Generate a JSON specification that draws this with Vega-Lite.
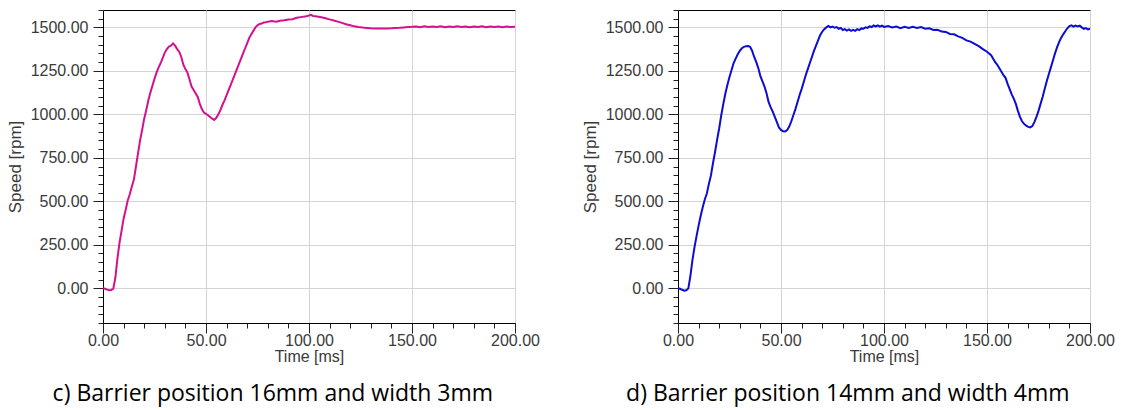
{
  "$schema": "https://vega.github.io/schema/vega-lite/v6.json",
  "padding": {"left": 5, "top": 1, "right": 5, "bottom": 2},
  "bounds": "flush",
  "spacing": 163,
  "background": "white",
  "config": {
    "view": {"stroke": "#000000", "strokeWidth": 1},
    "axis": {
      "domainColor": "#000000",
      "tickColor": "#222222",
      "gridColor": "#d4d4d4",
      "gridWidth": 1,
      "labelFont": "Liberation Sans",
      "labelFontSize": 16,
      "labelColor": "#3a3a3a",
      "titleFont": "Liberation Sans",
      "titleFontSize": 16,
      "titleFontWeight": "normal",
      "titleColor": "#3a3a3a",
      "labelOverlap": false,
      "labelFlush": false
    },
    "title": {
      "font": "Open Sans",
      "fontSize": 23,
      "fontWeight": "normal",
      "color": "#000000",
      "orient": "bottom",
      "anchor": "middle",
      "frame": "bounds",
      "offset": 19
    }
  },
  "datasets": {
    "c": [
      {"t":0,"v":0},{"t":1,"v":-3},{"t":2,"v":-8},{"t":3,"v":-12},{"t":4,"v":-10},{"t":5,"v":-3},
      {"t":6,"v":60},{"t":7,"v":170},{"t":8,"v":260},{"t":9,"v":330},{"t":10,"v":400},
      {"t":11,"v":450},{"t":12,"v":505},{"t":13,"v":540},{"t":14,"v":585},{"t":15,"v":625},
      {"t":16,"v":700},{"t":17,"v":775},{"t":18,"v":850},{"t":19,"v":910},{"t":20,"v":975},
      {"t":21,"v":1025},{"t":22,"v":1080},{"t":23,"v":1125},{"t":24,"v":1165},{"t":25,"v":1205},
      {"t":26,"v":1240},{"t":27,"v":1270},{"t":28,"v":1295},{"t":29,"v":1325},{"t":30,"v":1355},
      {"t":31,"v":1375},{"t":32,"v":1390},{"t":33,"v":1395},{"t":34,"v":1408},{"t":35,"v":1395},
      {"t":36,"v":1375},{"t":37,"v":1360},{"t":38,"v":1330},{"t":39,"v":1285},{"t":40,"v":1260},
      {"t":41,"v":1240},{"t":42,"v":1200},{"t":43,"v":1160},{"t":44,"v":1140},{"t":45,"v":1120},
      {"t":46,"v":1100},{"t":47,"v":1060},{"t":48,"v":1030},{"t":49,"v":1010},{"t":50,"v":1003},
      {"t":51,"v":995},{"t":52,"v":985},{"t":53,"v":975},{"t":54,"v":968},{"t":55,"v":980},
      {"t":56,"v":1000},{"t":57,"v":1025},{"t":58,"v":1055},{"t":59,"v":1080},{"t":60,"v":1110},
      {"t":61,"v":1140},{"t":62,"v":1170},{"t":63,"v":1200},{"t":64,"v":1230},{"t":65,"v":1260},
      {"t":66,"v":1290},{"t":67,"v":1320},{"t":68,"v":1350},{"t":69,"v":1380},{"t":70,"v":1410},
      {"t":71,"v":1440},{"t":72,"v":1460},{"t":73,"v":1480},{"t":74,"v":1500},{"t":75,"v":1512},
      {"t":76,"v":1520},{"t":77,"v":1522},{"t":78,"v":1528},{"t":79,"v":1530},{"t":80,"v":1533},
      {"t":82,"v":1536},{"t":84,"v":1533},{"t":86,"v":1538},{"t":88,"v":1541},{"t":90,"v":1545},
      {"t":92,"v":1547},{"t":94,"v":1555},{"t":96,"v":1559},{"t":98,"v":1562},{"t":100,"v":1568},
      {"t":101,"v":1572},{"t":102,"v":1566},{"t":104,"v":1563},{"t":106,"v":1558},{"t":108,"v":1553},
      {"t":110,"v":1546},{"t":112,"v":1540},{"t":114,"v":1533},{"t":116,"v":1526},{"t":118,"v":1518},
      {"t":120,"v":1512},{"t":122,"v":1506},{"t":124,"v":1502},{"t":126,"v":1499},{"t":128,"v":1497},
      {"t":130,"v":1495},{"t":132,"v":1494},{"t":134,"v":1494},{"t":136,"v":1493},{"t":138,"v":1494},
      {"t":140,"v":1495},{"t":142,"v":1497},{"t":144,"v":1498},{"t":146,"v":1500},{"t":148,"v":1502},
      {"t":150,"v":1503},{"t":152,"v":1505},{"t":154,"v":1501},{"t":156,"v":1506},{"t":158,"v":1502},
      {"t":160,"v":1505},{"t":162,"v":1502},{"t":164,"v":1506},{"t":166,"v":1501},{"t":168,"v":1505},
      {"t":170,"v":1502},{"t":172,"v":1506},{"t":174,"v":1502},{"t":176,"v":1505},{"t":178,"v":1501},
      {"t":180,"v":1505},{"t":182,"v":1502},{"t":184,"v":1506},{"t":186,"v":1501},{"t":188,"v":1505},
      {"t":190,"v":1502},{"t":192,"v":1505},{"t":194,"v":1501},{"t":196,"v":1505},{"t":198,"v":1502},
      {"t":200,"v":1503}
    ],
    "d": [
      {"t":0,"v":0},{"t":1,"v":-3},{"t":2,"v":-9},{"t":3,"v":-14},{"t":4,"v":-12},{"t":5,"v":-2},
      {"t":6,"v":70},{"t":7,"v":160},{"t":8,"v":235},{"t":9,"v":300},{"t":10,"v":360},
      {"t":11,"v":415},{"t":12,"v":465},{"t":13,"v":510},{"t":14,"v":545},{"t":15,"v":600},
      {"t":16,"v":650},{"t":17,"v":720},{"t":18,"v":785},{"t":19,"v":855},{"t":20,"v":920},
      {"t":21,"v":995},{"t":22,"v":1060},{"t":23,"v":1120},{"t":24,"v":1170},{"t":25,"v":1215},
      {"t":26,"v":1255},{"t":27,"v":1295},{"t":28,"v":1320},{"t":29,"v":1345},{"t":30,"v":1365},
      {"t":31,"v":1380},{"t":32,"v":1388},{"t":33,"v":1392},{"t":34,"v":1393},{"t":35,"v":1388},
      {"t":36,"v":1365},{"t":37,"v":1330},{"t":38,"v":1300},{"t":39,"v":1265},{"t":40,"v":1220},
      {"t":41,"v":1190},{"t":42,"v":1160},{"t":43,"v":1120},{"t":44,"v":1070},{"t":45,"v":1040},
      {"t":46,"v":1015},{"t":47,"v":985},{"t":48,"v":955},{"t":49,"v":925},{"t":50,"v":910},
      {"t":51,"v":903},{"t":52,"v":902},{"t":53,"v":910},{"t":54,"v":930},{"t":55,"v":960},
      {"t":56,"v":995},{"t":57,"v":1030},{"t":58,"v":1070},{"t":59,"v":1110},{"t":60,"v":1145},
      {"t":61,"v":1185},{"t":62,"v":1225},{"t":63,"v":1260},{"t":64,"v":1295},{"t":65,"v":1330},
      {"t":66,"v":1365},{"t":67,"v":1395},{"t":68,"v":1425},{"t":69,"v":1455},{"t":70,"v":1475},
      {"t":71,"v":1490},{"t":72,"v":1500},{"t":73,"v":1508},{"t":74,"v":1500},{"t":75,"v":1505},
      {"t":76,"v":1498},{"t":77,"v":1502},{"t":78,"v":1492},{"t":79,"v":1497},{"t":80,"v":1485},
      {"t":81,"v":1490},{"t":82,"v":1482},{"t":83,"v":1488},{"t":84,"v":1480},{"t":85,"v":1486},
      {"t":86,"v":1480},{"t":87,"v":1490},{"t":88,"v":1484},{"t":89,"v":1494},{"t":90,"v":1492},
      {"t":91,"v":1500},{"t":92,"v":1497},{"t":93,"v":1506},{"t":94,"v":1502},{"t":95,"v":1511},
      {"t":96,"v":1506},{"t":97,"v":1512},{"t":98,"v":1504},{"t":99,"v":1510},{"t":100,"v":1503},
      {"t":102,"v":1508},{"t":104,"v":1500},{"t":106,"v":1505},{"t":108,"v":1496},{"t":110,"v":1504},
      {"t":112,"v":1497},{"t":114,"v":1503},{"t":116,"v":1497},{"t":118,"v":1502},{"t":120,"v":1492},
      {"t":122,"v":1495},{"t":124,"v":1485},{"t":126,"v":1486},{"t":128,"v":1476},{"t":130,"v":1474},
      {"t":132,"v":1462},{"t":134,"v":1460},{"t":136,"v":1448},{"t":138,"v":1440},{"t":140,"v":1425},
      {"t":142,"v":1418},{"t":144,"v":1405},{"t":146,"v":1392},{"t":148,"v":1375},{"t":150,"v":1360},
      {"t":151,"v":1350},{"t":152,"v":1340},{"t":153,"v":1320},{"t":154,"v":1300},{"t":155,"v":1285},
      {"t":156,"v":1265},{"t":157,"v":1245},{"t":158,"v":1225},{"t":159,"v":1210},{"t":160,"v":1175},
      {"t":161,"v":1145},{"t":162,"v":1115},{"t":163,"v":1090},{"t":164,"v":1060},{"t":165,"v":1020},
      {"t":166,"v":985},{"t":167,"v":960},{"t":168,"v":945},{"t":169,"v":935},{"t":170,"v":928},
      {"t":171,"v":925},{"t":172,"v":932},{"t":173,"v":955},{"t":174,"v":985},{"t":175,"v":1020},
      {"t":176,"v":1060},{"t":177,"v":1100},{"t":178,"v":1145},{"t":179,"v":1190},{"t":180,"v":1230},
      {"t":181,"v":1270},{"t":182,"v":1310},{"t":183,"v":1350},{"t":184,"v":1385},{"t":185,"v":1415},
      {"t":186,"v":1440},{"t":187,"v":1460},{"t":188,"v":1478},{"t":189,"v":1495},{"t":190,"v":1508},
      {"t":191,"v":1512},{"t":192,"v":1505},{"t":193,"v":1510},{"t":194,"v":1506},{"t":195,"v":1510},
      {"t":196,"v":1500},{"t":197,"v":1492},{"t":198,"v":1496},{"t":199,"v":1488},{"t":200,"v":1493}
    ]
  },
  "hconcat": [
    {
      "width": 412,
      "height": 313,
      "data": {"name": "c"},
      "title": {"text": "c) Barrier position 16mm and width 3mm"},
      "mark": {"type": "line", "color": "#d4118c", "strokeWidth": 2, "clip": true},
      "encoding": {
        "x": {
          "field": "t", "type": "quantitative",
          "scale": {"domain": [0, 200], "nice": false, "zero": false},
          "axis": {
            "title": "Time [ms]",
            "values": [0,10,20,30,40,50,60,70,80,90,100,110,120,130,140,150,160,170,180,190,200],
            "labelExpr": "datum.value % 50 === 0 ? format(datum.value, '.2f') : ''",
            "tickSize": {"condition": {"test": "datum.value % 50 === 0", "value": 10}, "value": 5},
            "gridOpacity": {"condition": {"test": "datum.value % 50 === 0", "value": 1}, "value": 0},
            "labelPadding": -1,
            "titlePadding": 0
          }
        },
        "y": {
          "field": "v", "type": "quantitative",
          "scale": {"domain": [-200, 1600], "nice": false, "zero": false},
          "axis": {
            "title": "Speed [rpm]",
            "titleFontSize": 17,
            "values": [-200,-150,-100,-50,0,50,100,150,200,250,300,350,400,450,500,550,600,650,700,750,800,850,900,950,1000,1050,1100,1150,1200,1250,1300,1350,1400,1450,1500,1550,1600],
            "labelExpr": "datum.value % 250 === 0 && datum.value >= 0 ? format(datum.value, '.2f') : ''",
            "tickSize": {"condition": {"test": "datum.value % 250 === 0", "value": 10}, "value": 5},
            "gridOpacity": {"condition": {"test": "datum.value % 250 === 0", "value": 1}, "value": 0},
            "labelPadding": 5,
            "titlePadding": 6
          }
        }
      }
    },
    {
      "width": 412,
      "height": 313,
      "data": {"name": "d"},
      "title": {"text": "d) Barrier position 14mm and width 4mm"},
      "mark": {"type": "line", "color": "#0c0cd2", "strokeWidth": 2, "clip": true},
      "encoding": {
        "x": {
          "field": "t", "type": "quantitative",
          "scale": {"domain": [0, 200], "nice": false, "zero": false},
          "axis": {
            "title": "Time [ms]",
            "values": [0,10,20,30,40,50,60,70,80,90,100,110,120,130,140,150,160,170,180,190,200],
            "labelExpr": "datum.value % 50 === 0 ? format(datum.value, '.2f') : ''",
            "tickSize": {"condition": {"test": "datum.value % 50 === 0", "value": 10}, "value": 5},
            "gridOpacity": {"condition": {"test": "datum.value % 50 === 0", "value": 1}, "value": 0},
            "labelPadding": -1,
            "titlePadding": 0
          }
        },
        "y": {
          "field": "v", "type": "quantitative",
          "scale": {"domain": [-200, 1600], "nice": false, "zero": false},
          "axis": {
            "title": "Speed [rpm]",
            "titleFontSize": 17,
            "values": [-200,-150,-100,-50,0,50,100,150,200,250,300,350,400,450,500,550,600,650,700,750,800,850,900,950,1000,1050,1100,1150,1200,1250,1300,1350,1400,1450,1500,1550,1600],
            "labelExpr": "datum.value % 250 === 0 && datum.value >= 0 ? format(datum.value, '.2f') : ''",
            "tickSize": {"condition": {"test": "datum.value % 250 === 0", "value": 10}, "value": 5},
            "gridOpacity": {"condition": {"test": "datum.value % 250 === 0", "value": 1}, "value": 0},
            "labelPadding": 5,
            "titlePadding": 6
          }
        }
      }
    }
  ]
}
